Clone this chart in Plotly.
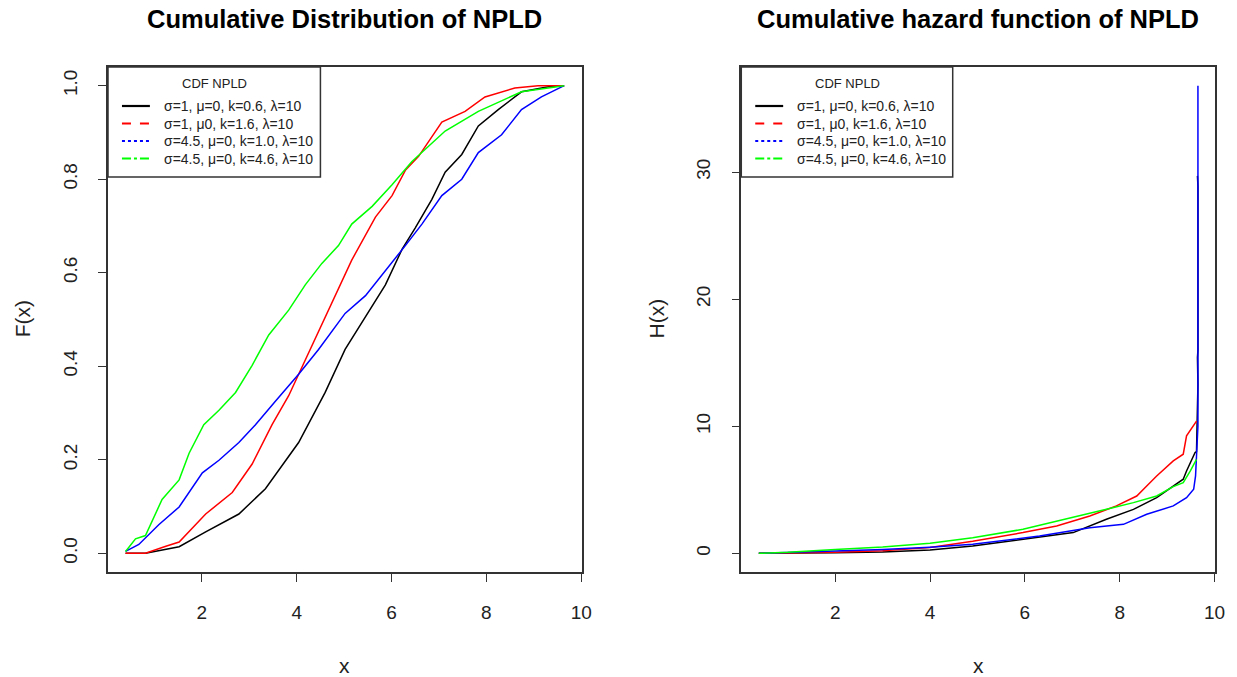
import plotly.graph_objects as go

# ---------------- data ----------------
# Left panel: empirical CDF F(x)
cdf_black_x = [0.39, 0.81, 1.52, 2.08, 2.78, 3.34, 4.04, 4.60, 5.02, 5.45, 5.87, 6.22, 6.50, 6.85, 7.13, 7.48, 7.83, 8.25, 8.74, 9.31, 9.64]
cdf_black_y = [0.0, 0.0, 0.014, 0.046, 0.084, 0.138, 0.237, 0.344, 0.436, 0.505, 0.574, 0.650, 0.696, 0.757, 0.815, 0.853, 0.914, 0.949, 0.987, 0.998, 1.0]

cdf_red_x = [0.39, 0.81, 1.24, 1.52, 2.08, 2.64, 3.06, 3.48, 3.83, 4.18, 4.60, 4.88, 5.16, 5.66, 6.01, 6.29, 6.57, 7.06, 7.55, 7.97, 8.60, 9.09, 9.64]
cdf_red_y = [0.0, 0.0, 0.015, 0.024, 0.084, 0.130, 0.191, 0.275, 0.337, 0.413, 0.505, 0.566, 0.627, 0.719, 0.765, 0.819, 0.849, 0.922, 0.945, 0.976, 0.995, 1.0, 1.0]

cdf_blue_x = [0.39, 0.67, 1.09, 1.52, 2.01, 2.36, 2.78, 3.13, 3.55, 4.04, 4.46, 5.02, 5.45, 5.87, 6.29, 6.64, 7.06, 7.48, 7.83, 8.32, 8.74, 9.16, 9.64]
cdf_blue_y = [0.004, 0.019, 0.061, 0.099, 0.172, 0.199, 0.237, 0.275, 0.325, 0.383, 0.436, 0.513, 0.551, 0.604, 0.658, 0.704, 0.765, 0.800, 0.857, 0.895, 0.949, 0.976, 1.0]

cdf_green_x = [0.39, 0.60, 0.81, 1.16, 1.52, 1.73, 2.04, 2.36, 2.71, 3.06, 3.41, 3.83, 4.18, 4.53, 4.88, 5.16, 5.59, 6.01, 6.43, 7.13, 7.83, 8.74, 9.64]
cdf_green_y = [0.004, 0.031, 0.038, 0.115, 0.157, 0.214, 0.275, 0.306, 0.344, 0.402, 0.467, 0.520, 0.574, 0.620, 0.658, 0.704, 0.742, 0.788, 0.838, 0.903, 0.945, 0.987, 1.0]

# Right panel: cumulative hazard H(x)
haz_black_x = [0.39, 1.0, 2.0, 3.0, 4.0, 4.90, 5.96, 7.02, 7.72, 8.29, 8.78, 9.13, 9.34, 9.41, 9.59, 9.62, 9.65, 9.64, 9.65, 9.65, 9.64]
haz_black_y = [0.0, 0.0, 0.04, 0.10, 0.26, 0.58, 1.10, 1.63, 2.68, 3.46, 4.38, 5.25, 5.83, 6.48, 7.93, 8.0, 13.3, 15.4, 16.0, 28.9, 29.7]

haz_red_x = [0.39, 1.0, 2.0, 3.0, 4.0, 4.90, 5.96, 6.67, 7.37, 7.93, 8.36, 8.57, 8.78, 9.13, 9.34, 9.41, 9.56, 9.62]
haz_red_y = [0.0, 0.01, 0.08, 0.20, 0.45, 0.95, 1.63, 2.15, 2.94, 3.73, 4.51, 5.30, 6.09, 7.27, 7.80, 9.24, 10.0, 10.4]

haz_blue_x = [0.39, 1.0, 2.0, 3.0, 4.0, 4.90, 6.31, 7.37, 8.08, 8.57, 9.13, 9.41, 9.56, 9.60, 9.65, 9.65]
haz_blue_y = [0.0, 0.05, 0.19, 0.30, 0.48, 0.71, 1.36, 2.02, 2.28, 3.07, 3.73, 4.38, 5.04, 6.09, 10.0, 36.8]

haz_green_x = [0.39, 1.0, 2.0, 3.0, 4.0, 4.90, 5.96, 7.02, 7.72, 8.29, 8.78, 9.13, 9.34, 9.49, 9.62]
haz_green_y = [0.0, 0.08, 0.30, 0.50, 0.80, 1.23, 1.89, 2.81, 3.46, 3.99, 4.51, 5.25, 5.56, 6.48, 7.4]

series_colors = ["#000000", "#FF0000", "#0000FF", "#00FF00"]
series_dash = ["solid", "dash", "dot", "dashdot"]
legend_labels = [
    "σ=1, μ=0, k=0.6, λ=10",
    "σ=1, μ0, k=1.6, λ=10",
    "σ=4.5, μ=0, k=1.0, λ=10",
    "σ=4.5, μ=0, k=4.6, λ=10",
]
legend_title = "CDF NPLD"
titles = ["Cumulative Distribution of NPLD", "Cumulative hazard function of NPLD"]
ylabels = ["F(x)", "H(x)"]
x_ticks = [2, 4, 6, 8, 10]
cdf_ticks = [0.0, 0.2, 0.4, 0.6, 0.8, 1.0]
cdf_ticktext = ["0.0", "0.2", "0.4", "0.6", "0.8", "1.0"]
haz_ticks = [0, 10, 20, 30]

# ---------------- layout geometry ----------------
W, H = 1237, 677
ML, MR, MT, MB = 108, 19, 67, 105
PW = W - ML - MR
PH = H - MT - MB
FONT = "Liberation Sans, Arial, sans-serif"


def px(xp):
    return (xp - ML) / PW


def py(yp):
    return (H - MB - yp) / PH


fig = go.Figure()

cdf_data = [(cdf_black_x, cdf_black_y), (cdf_red_x, cdf_red_y),
            (cdf_blue_x, cdf_blue_y), (cdf_green_x, cdf_green_y)]
haz_data = [(haz_black_x, haz_black_y), (haz_red_x, haz_red_y),
            (haz_blue_x, haz_blue_y), (haz_green_x, haz_green_y)]

for (xs, ys), c in zip(cdf_data, series_colors):
    fig.add_trace(go.Scatter(x=xs, y=ys, mode="lines", line=dict(color=c, width=1.5),
                             xaxis="x", yaxis="y", showlegend=False))
for (xs, ys), c in zip(haz_data, series_colors):
    fig.add_trace(go.Scatter(x=xs, y=ys, mode="lines", line=dict(color=c, width=1.5),
                             xaxis="x2", yaxis="y2", showlegend=False))

axis_common = dict(showline=True, mirror=True, linecolor="#333333", linewidth=1.5,
                   ticks="outside", ticklen=8, tickwidth=1.2, tickcolor="#333333",
                   showgrid=False, zeroline=False,
                   tickfont=dict(family=FONT, size=19, color="#222222"))

left_x0, left_x1 = 108, 583
right_x0, right_x1 = 743, 1218

fig.update_layout(
    width=W, height=H,
    margin=dict(l=ML, r=MR, t=MT, b=MB),
    paper_bgcolor="white", plot_bgcolor="white",
    showlegend=False,
    xaxis=dict(domain=[px(left_x0), px(left_x1)], range=[0.02, 10.01],
               tickvals=x_ticks, ticklabelstandoff=14, **axis_common),
    yaxis=dict(range=[-0.04, 1.04], tickvals=cdf_ticks, ticktext=cdf_ticktext,
               tickangle=-90, ticklabelstandoff=14, anchor="x", **axis_common),
    xaxis2=dict(domain=[px(right_x0), px(right_x1)], range=[0.02, 10.01],
                tickvals=x_ticks, ticklabelstandoff=14, anchor="y2", **axis_common),
    yaxis2=dict(range=[-1.47, 38.27], tickvals=haz_ticks,
                tickangle=-90, ticklabelstandoff=14, anchor="x2", **axis_common),
)

shapes = []
annotations = []

# titles and axis labels
centers = [(left_x0 + left_x1) / 2, (right_x0 + right_x1) / 2]
ylab_x = [22, 657]
for i in range(2):
    annotations.append(dict(x=px(centers[i]), y=py(19), xref="paper", yref="paper",
                            text="<b>%s</b>" % titles[i], showarrow=False,
                            xanchor="center", yanchor="middle",
                            font=dict(family=FONT, size=25.5, color="#000000")))
    annotations.append(dict(x=px(centers[i]), y=py(665), xref="paper", yref="paper",
                            text="x", showarrow=False, xanchor="center", yanchor="middle",
                            font=dict(family=FONT, size=21, color="#222222")))
    annotations.append(dict(x=px(ylab_x[i]), y=py(319), xref="paper", yref="paper",
                            text=ylabels[i], showarrow=False, textangle=-90,
                            xanchor="center", yanchor="middle",
                            font=dict(family=FONT, size=21, color="#222222")))

# legends (drawn R-style)
legend_boxes = [(108, 321), (743, 955)]
for bx0, bx1 in legend_boxes:
    shapes.append(dict(type="rect", xref="paper", yref="paper",
                       x0=px(bx0), x1=px(bx1), y0=py(177), y1=py(67),
                       line=dict(color="#333333", width=1.5), fillcolor="white", layer="above"))
    annotations.append(dict(x=px((bx0 + bx1) / 2 + 0.5), y=py(83), xref="paper", yref="paper",
                            text=legend_title, showarrow=False, xanchor="center", yanchor="middle",
                            font=dict(family=FONT, size=13, color="#222222")))
    rows = [106, 123.5, 141, 158.5]
    for j in range(4):
        shapes.append(dict(type="line", xref="paper", yref="paper",
                           x0=px(bx0 + 14), x1=px(bx0 + 42), y0=py(rows[j]), y1=py(rows[j]),
                           line=dict(color=series_colors[j], width=2.2, dash=series_dash[j]),
                           layer="above"))
        annotations.append(dict(x=px(bx0 + 54), y=py(rows[j]), xref="paper", yref="paper",
                                text=legend_labels[j], showarrow=False,
                                xanchor="left", yanchor="middle",
                                font=dict(family=FONT, size=14, color="#222222")))

fig.update_layout(shapes=shapes, annotations=annotations)

fig.write_html("out.html")
